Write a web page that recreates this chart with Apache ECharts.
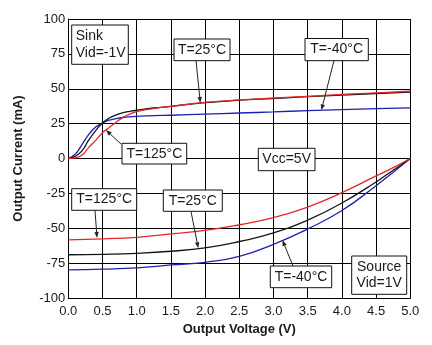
<!DOCTYPE html>
<html><head><meta charset="utf-8">
<script src="https://cdn.jsdelivr.net/npm/echarts@6/dist/echarts.min.js"></script>
<style>html,body{margin:0;padding:0;background:#fff}#c{width:432px;height:345px}</style>
</head><body><div id="c"></div>
<script>
// Sink (Vid = -1V)
const sinkVoltage = [0,0.1,0.2,0.3,0.4,0.5,0.6,0.7,0.8,0.9,1.0,1.25,1.5,2.0,2.5,3.0,3.5,4.0,4.5,5.0];
const sinkM40  = [0,3,10,17.3,22.5,25.5,27.5,28.6,29.4,29.9,30.2,30.7,31.0,31.8,32.6,33.4,34.3,35.0,35.7,36.3];
const sink25   = [0,1.5,5.5,13.3,20,25.5,29,31.3,32.8,33.8,34.6,36.2,37.4,40,41.8,43,44.3,45.5,46.6,47.6];
const sink125  = [0,0.5,2.5,8,13,18.4,22.3,26,29.5,31.8,33.6,35.8,37.3,40.2,42,43.3,44.6,45.9,47.1,48.2];
// Source (Vid = 1V)
const sourceVoltage = [0,0.5,1.0,1.5,2.0,2.5,3.0,3.5,4.0,4.5,4.75,5.0];
const sourceM40 = [-79.8,-79.3,-78.4,-76.3,-74.4,-70.2,-61.5,-50.5,-37.3,-19.5,-9.8,0];
const source25  = [-69,-68.7,-68,-66.5,-64,-59.5,-53.4,-44.2,-31.9,-16.8,-8.4,0];
const source125 = [-58.3,-57.6,-56.5,-54,-51.5,-47.5,-42.3,-34.8,-24.5,-12.5,-6.5,0];

const xTicks = [0,0.5,1,1.5,2,2.5,3,3.5,4,4.5,5];
const yTicks = [-100,-75,-50,-25,0,25,50,75,100];

const RED = '#e4262a', BLACK = '#151515', BLUE = '#2020b0';
const pair = (xs, ys) => xs.map((x, i) => [x, ys[i]]);

const chart = echarts.init(document.getElementById('c'), null, {renderer: 'canvas'});
const font = '"Liberation Sans", Arial, sans-serif';

function series(name, xs, ys, color) {
  return {name, type: 'line', data: pair(xs, ys), smooth: true, showSymbol: false,
    lineStyle: {color, width: 1.3}, z: 3, animation: false};
}

chart.setOption({
  animation: false,
  grid: {left: 68.3, right: 21.7, top: 19, bottom: 47},
  xAxis: {type: 'value', min: xTicks[0], max: xTicks[xTicks.length-1], interval: 0.5,
    axisLine: {onZero: false, lineStyle: {color: '#000', width: 1}},
    axisTick: {show: false},
    splitLine: {show: true, lineStyle: {color: '#000', width: 1}},
    axisLabel: {formatter: v => v.toFixed(1), color: '#1a1a1a', fontSize: 13, fontFamily: font, margin: 7},
    name: 'Output Voltage (V)', nameLocation: 'middle', nameGap: 18,
    nameTextStyle: {fontSize: 13, fontWeight: 'bold', color: '#1a1a1a', fontFamily: font}},
  yAxis: {type: 'value', min: yTicks[0], max: yTicks[yTicks.length-1], interval: 25,
    axisLine: {show: true, lineStyle: {color: '#000', width: 1}},
    axisTick: {show: false},
    splitLine: {show: true, lineStyle: {color: '#000', width: 1}},
    axisLabel: {color: '#1a1a1a', fontSize: 13, fontFamily: font, margin: 3, padding: [0,0,9,0]},
    name: 'Output Current (mA)', nameLocation: 'middle', nameGap: 43,
    nameTextStyle: {fontSize: 13, fontWeight: 'bold', color: '#1a1a1a', fontFamily: font}},
  series: [
    series('Sink -40°C', sinkVoltage, sinkM40, BLUE),
    series('Sink 25°C', sinkVoltage, sink25, BLACK),
    series('Sink 125°C', sinkVoltage, sink125, RED),
    series('Source -40°C', sourceVoltage, sourceM40, BLUE),
    series('Source 25°C', sourceVoltage, source25, BLACK),
    series('Source 125°C', sourceVoltage, source125, RED)
  ]
});

// annotations
const boxes = [
  {x: 71.7, y: 25, w: 56.6, h: 39.3, lines: ['Sink', 'Vid=-1V'], align: 'left'},
  {x: 174, y: 39, w: 56, h: 21.7, lines: ['T=25°C']},
  {x: 305, y: 38.5, w: 63.3, h: 22.2, lines: ['T=-40°C']},
  {x: 122, y: 143.3, w: 64.7, h: 20.7, lines: ['T=125°C']},
  {x: 258.3, y: 148.3, w: 56.7, h: 22.4, lines: ['Vcc=5V']},
  {x: 71.7, y: 188.7, w: 65, h: 21.6, lines: ['T=125°C']},
  {x: 163.3, y: 190, w: 59, h: 21.3, lines: ['T=25°C']},
  {x: 270.3, y: 266, w: 61.4, h: 21.7, lines: ['T=-40°C']},
  {x: 351.7, y: 256, w: 55, h: 38.3, lines: ['Source', 'Vid=1V']}
];
// arrows: start pixel (on the box) -> data point on a curve
const arrows = [
  {from: [196, 60.5], to: [1.93, 39.8]},
  {from: [334, 60.5], to: [3.7, 34.6]},
  {from: [121, 144], to: [0.55, 20.4]},
  {from: [95, 210.5], to: [0.42, -57]},
  {from: [191, 211.5], to: [1.9, -64.3]},
  {from: [293, 266], to: [3.13, -58.5]}
];

const g = [];
arrows.forEach(a => {
  const p = chart.convertToPixel({gridIndex: 0}, a.to);
  const dx = p[0] - a.from[0], dy = p[1] - a.from[1];
  const L = Math.hypot(dx, dy), ux = dx / L, uy = dy / L;
  const hl = 6, hw = 2.2;
  const bx = p[0] - ux * hl, by = p[1] - uy * hl;
  g.push({type: 'line', shape: {x1: a.from[0], y1: a.from[1], x2: bx, y2: by},
    style: {stroke: '#222', lineWidth: 1}, z: 50});
  g.push({type: 'polygon', shape: {points: [[p[0], p[1]], [bx - uy * hw, by + ux * hw], [bx + uy * hw, by - ux * hw]]},
    style: {fill: '#222'}, z: 50});
});
boxes.forEach(b => {
  g.push({type: 'rect', shape: {x: b.x, y: b.y, width: b.w, height: b.h},
    style: {fill: '#fff', stroke: '#111', lineWidth: 1}, z: 60});
  const n = b.lines.length, lh = 16.8;
  b.lines.forEach((t, i) => {
    const cy = b.y + b.h / 2 + (i - (n - 1) / 2) * lh;
    g.push({type: 'text', z: 61, style: {
      text: t, x: b.align === 'left' ? b.x + 4 : b.x + b.w / 2, y: cy,
      align: b.align === 'left' ? 'left' : 'center', verticalAlign: 'middle',
      font: '14px ' + font, fill: '#1a1a1a'}});
  });
});
chart.setOption({graphic: g});
</script>
</body></html>
